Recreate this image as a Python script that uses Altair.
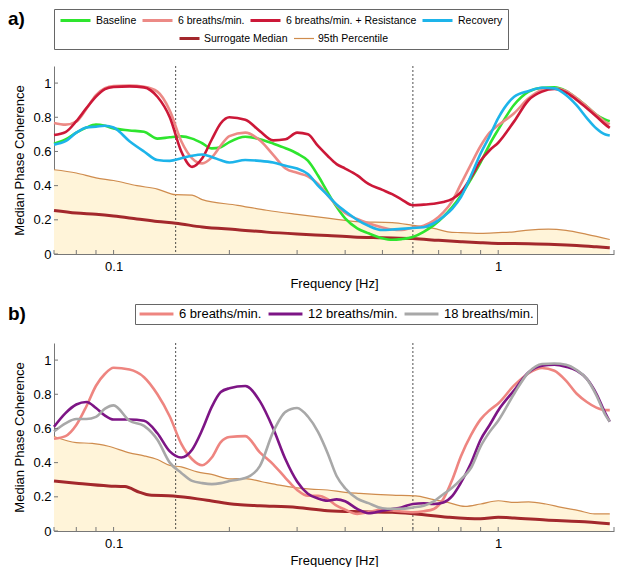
import altair as alt
import pandas as pd

# ---------------- data ----------------
FREQ = [0.07, 0.075, 0.08, 0.085, 0.09, 0.095, 0.10, 0.11, 0.12, 0.13, 0.14, 0.15, 0.16, 0.17, 0.18, 0.19,
        0.20, 0.22, 0.24, 0.26, 0.28, 0.30, 0.32, 0.34, 0.36, 0.38, 0.40, 0.43, 0.46, 0.50, 0.53, 0.56, 0.60,
        0.64, 0.68, 0.72, 0.76, 0.80, 0.85, 0.90, 0.95, 1.0, 1.1, 1.2, 1.3, 1.4, 1.5, 1.6, 1.7, 1.8, 1.9, 1.95]

# panel a
A_BASELINE = [0.645, 0.67, 0.71, 0.74, 0.757, 0.75, 0.735, 0.723, 0.715, 0.675, 0.683, 0.688, 0.675, 0.648, 0.618, 0.625,
              0.655, 0.686, 0.672, 0.646, 0.619, 0.588, 0.546, 0.459, 0.362, 0.276, 0.208, 0.15, 0.121, 0.092, 0.083, 0.087, 0.10,
              0.13, 0.169, 0.218, 0.276, 0.343, 0.439, 0.536, 0.642, 0.728, 0.873, 0.95, 0.973, 0.975, 0.954, 0.911, 0.863, 0.815, 0.786, 0.777]
A_SIX = [0.767, 0.757, 0.775, 0.85, 0.93, 0.97, 0.983, 0.985, 0.978, 0.95, 0.84, 0.66, 0.56, 0.53, 0.565, 0.635,
         0.69, 0.71, 0.665, 0.58, 0.50, 0.475, 0.455, 0.41, 0.345, 0.285, 0.24, 0.205, 0.18, 0.155, 0.143, 0.14, 0.155,
         0.166, 0.195, 0.243, 0.311, 0.41, 0.526, 0.632, 0.71, 0.753, 0.824, 0.911, 0.96, 0.969, 0.954, 0.911, 0.863, 0.815, 0.772, 0.76]
A_RESIST = [0.696, 0.713, 0.777, 0.854, 0.921, 0.965, 0.977, 0.981, 0.975, 0.92, 0.80, 0.60, 0.51, 0.56, 0.67, 0.765,
            0.80, 0.785, 0.719, 0.665, 0.671, 0.71, 0.70, 0.632, 0.575, 0.526, 0.50, 0.46, 0.41, 0.375, 0.35, 0.32, 0.285,
            0.289, 0.294, 0.304, 0.323, 0.362, 0.449, 0.545, 0.607, 0.651, 0.776, 0.901, 0.95, 0.965, 0.946, 0.901, 0.853, 0.805, 0.757, 0.738]
A_RECOV = [0.64, 0.66, 0.71, 0.74, 0.745, 0.75, 0.74, 0.66, 0.60, 0.55, 0.545, 0.56, 0.575, 0.582, 0.568, 0.548,
           0.535, 0.55, 0.545, 0.535, 0.516, 0.50, 0.468, 0.40, 0.345, 0.29, 0.25, 0.20, 0.165, 0.14, 0.143, 0.147, 0.152,
           0.157, 0.18, 0.218, 0.266, 0.333, 0.459, 0.588, 0.69, 0.795, 0.92, 0.954, 0.973, 0.969, 0.93, 0.869, 0.795, 0.734, 0.699, 0.693]

A_SUR_F = [0.07, 0.08, 0.09, 0.10, 0.115, 0.13, 0.145, 0.17, 0.21, 0.25, 0.30, 0.36, 0.42, 0.50, 0.60, 0.70, 0.80, 0.90,
           1.0, 1.2, 1.4, 1.6, 1.8, 1.95]
A_SUR_V = [0.255, 0.24, 0.232, 0.222, 0.205, 0.19, 0.18, 0.158, 0.142, 0.128, 0.117, 0.108, 0.10, 0.095, 0.09, 0.08, 0.072, 0.066,
           0.062, 0.06, 0.056, 0.05, 0.042, 0.036]
A_P95_F = [0.07, 0.08, 0.09, 0.10, 0.115, 0.13, 0.145, 0.16, 0.17, 0.21, 0.25, 0.30, 0.36, 0.43, 0.53, 0.60, 0.68, 0.74, 0.80,
           0.90, 1.0, 1.1, 1.2, 1.35, 1.5, 1.7, 1.95]
A_P95_V = [0.493, 0.474, 0.445, 0.43, 0.40, 0.38, 0.347, 0.345, 0.318, 0.285, 0.256, 0.232, 0.21, 0.19, 0.184, 0.168, 0.15, 0.13, 0.125,
           0.121, 0.125, 0.13, 0.14, 0.145, 0.138, 0.115, 0.085]

# panel b
B_SIX = [0.54, 0.555, 0.62, 0.73, 0.85, 0.92, 0.955, 0.945, 0.90, 0.80, 0.67, 0.51, 0.42, 0.385, 0.43, 0.52,
         0.55, 0.555, 0.46, 0.39, 0.31, 0.24, 0.206, 0.206, 0.187, 0.148, 0.125, 0.10, 0.11, 0.125, 0.12, 0.114, 0.11,
         0.116, 0.129, 0.187, 0.302, 0.437, 0.562, 0.653, 0.707, 0.746, 0.852, 0.923, 0.954, 0.938, 0.88, 0.803, 0.755, 0.722, 0.707, 0.707]
B_TWELVE = [0.61, 0.69, 0.74, 0.755, 0.72, 0.675, 0.652, 0.652, 0.645, 0.572, 0.466, 0.43, 0.476, 0.592, 0.726, 0.813,
            0.835, 0.848, 0.76, 0.60, 0.418, 0.29, 0.218, 0.19, 0.177, 0.185, 0.174, 0.129, 0.104, 0.119, 0.129, 0.138, 0.158,
            0.162, 0.158, 0.167, 0.206, 0.283, 0.398, 0.534, 0.62, 0.705, 0.823, 0.929, 0.967, 0.973, 0.961, 0.938, 0.89, 0.803, 0.688, 0.64]
B_EIGHTEEN = [0.582, 0.63, 0.655, 0.655, 0.668, 0.716, 0.735, 0.645, 0.615, 0.534, 0.40, 0.34, 0.293, 0.28, 0.274, 0.28,
              0.293, 0.31, 0.38, 0.58, 0.697, 0.72, 0.67, 0.58, 0.457, 0.322, 0.25, 0.19, 0.163, 0.133, 0.13, 0.13, 0.138,
              0.148, 0.173, 0.215, 0.254, 0.302, 0.37, 0.495, 0.58, 0.645, 0.803, 0.929, 0.977, 0.98, 0.973, 0.942, 0.89, 0.794, 0.678, 0.64]

B_SUR_F = [0.07, 0.08, 0.097, 0.107, 0.117, 0.124, 0.143, 0.175, 0.21, 0.24, 0.30, 0.36, 0.44, 0.53, 0.61, 0.74, 0.90,
           1.0, 1.1, 1.33, 1.62, 1.95]
B_SUR_V = [0.293, 0.28, 0.264, 0.26, 0.226, 0.21, 0.205, 0.18, 0.155, 0.148, 0.138, 0.119, 0.113, 0.11, 0.10, 0.081, 0.071,
           0.08, 0.076, 0.064, 0.056, 0.043]
B_P95_F = [0.07, 0.08, 0.088, 0.097, 0.11, 0.12, 0.13, 0.14, 0.15, 0.165, 0.18, 0.20, 0.22, 0.243, 0.27, 0.296, 0.326,
           0.36, 0.40, 0.437, 0.53, 0.61, 0.67, 0.74, 0.82, 0.90, 1.0, 1.1, 1.2, 1.33, 1.46, 1.62, 1.78, 1.95]
B_P95_V = [0.553, 0.517, 0.513, 0.496, 0.457, 0.44, 0.418, 0.384, 0.375, 0.346, 0.331, 0.305, 0.307, 0.288, 0.268, 0.254, 0.245,
           0.24, 0.226, 0.22, 0.21, 0.205, 0.187, 0.167, 0.144, 0.158, 0.177, 0.167, 0.171, 0.158, 0.138, 0.119, 0.10, 0.10]

BAND_EDGES = [0.145, 0.6]
X_TICKS = [0.07, 0.08, 0.09, 0.1, 0.2, 0.3, 0.4, 0.5, 0.6, 0.7, 0.8, 0.9, 1.0, 2.0]
Y_TICKS = [0, 0.2, 0.4, 0.6, 0.8, 1.0]

A_NAMES = ["Baseline", "6 breaths/min.", "6 breaths/min. + Resistance", "Recovery"]
A_COLORS = ["#2EE52E", "#EC8A86", "#CC1838", "#1DB4EA"]
B_NAMES = ["6 breaths/min.", "12 breaths/min.", "18 breaths/min."]
B_COLORS = ["#EE8580", "#7D1585", "#A8A8A8"]
SUR_NAMES = ["Surrogate Median", "95th Percentile"]
SUR_COLORS = ["#A3282C", "#CF8C4E"]

FONT = "Liberation Sans, Arial, sans-serif"
W, H = 560, 188


def series_df(name, xs, ys):
    return pd.DataFrame({"f": xs, "v": ys, "s": name})


def panel(tag, names, series, colors, sur_f, sur_v, p95_f, p95_v, cond_legend, sur_legend, label_y):
    xenc = alt.X("f:Q", scale=alt.Scale(type="log", domain=[0.07, 2.0], nice=False),
                 axis=alt.Axis(values=[0.1, 1], format="~g", title="Frequency [Hz]", labelPadding=6,
                               titlePadding=4, tickSize=0, grid=False))
    yenc = alt.Y("v:Q", scale=alt.Scale(domain=[0, 1.1], nice=False),
                 axis=alt.Axis(values=Y_TICKS, format="~g", title="Median Phase Coherence", labelPadding=3,
                               titlePadding=6, tickSize=0, grid=False))

    p95 = series_df("95th Percentile", p95_f, p95_v)
    sur = pd.concat([series_df("Surrogate Median", sur_f, sur_v), p95], ignore_index=True)

    fill = alt.Chart(p95).mark_area(color="#FFF4D9", interpolate="monotone").encode(x=xenc, y=yenc)

    sur_lines = alt.Chart(sur).mark_line(interpolate="monotone").encode(
        x=xenc, y=yenc,
        stroke=alt.Stroke("s:N", scale=alt.Scale(domain=SUR_NAMES, range=SUR_COLORS), legend=sur_legend),
        strokeWidth=alt.StrokeWidth("s:N", scale=alt.Scale(domain=SUR_NAMES, range=[3, 1.2]), legend=sur_legend),
    )

    bands = alt.Chart(pd.DataFrame({"f": BAND_EDGES})).mark_rule(
        color="#222", strokeWidth=0.8, strokeDash=[2, 2]
    ).encode(x=xenc, y=alt.value(0), y2=alt.value(H))

    xt = alt.Chart(pd.DataFrame({"f": X_TICKS})).mark_rule(color="#777", strokeWidth=1).encode(
        x=xenc, y=alt.value(H), y2=alt.value(H - 4))
    yt = alt.Chart(pd.DataFrame({"v": Y_TICKS})).mark_rule(color="#777", strokeWidth=1).encode(
        y=yenc, x=alt.value(0), x2=alt.value(4))

    cscale = alt.Scale(domain=names, range=colors)
    cond_layers = []
    for name, vals in zip(names, series):
        cond_layers.append(
            alt.Chart(series_df(name, FREQ, vals)).mark_line(interpolate="monotone", strokeWidth=2.6).encode(
                x=xenc, y=yenc, color=alt.Color("s:N", scale=cscale, legend=cond_legend))
        )

    label = alt.Chart(pd.DataFrame({"t": [tag]})).mark_text(
        align="left", baseline="middle", fontSize=19, fontWeight="bold", font=FONT, color="black"
    ).encode(text="t:N", x=alt.value(-46), y=alt.value(label_y))

    return alt.layer(fill, bands, sur_lines, *cond_layers, xt, yt, label).properties(width=W, height=H)


leg_a = alt.Legend(title=" ", titleOrient="bottom", titleFontSize=10, titlePadding=7,
                   orient="none", legendX=0, legendY=-57, direction="horizontal",
                   symbolType="stroke", symbolSize=900, symbolStrokeWidth=3, clipHeight=13,
                   labelFont=FONT, labelFontSize=10.5, labelOffset=4, columnPadding=4, padding=5,
                   strokeColor="#666", labelLimit=400)
leg_a_sur = alt.Legend(title=None, orient="none", legendX=124, legendY=-34, direction="horizontal",
                       symbolType="stroke", symbolSize=400, clipHeight=13,
                       labelFont=FONT, labelFontSize=10.5, labelOffset=3, columnPadding=5, padding=0)
leg_b = alt.Legend(title=None, orient="none", legendX=81, legendY=-39, direction="horizontal",
                   symbolType="stroke", symbolSize=1150, symbolStrokeWidth=3, clipHeight=14,
                   labelFont=FONT, labelFontSize=13, labelOffset=4, columnPadding=5, padding=3,
                   strokeColor="#666", fillColor="white", labelLimit=400)

pa = panel("a)", A_NAMES, [A_BASELINE, A_SIX, A_RESIST, A_RECOV], A_COLORS,
           A_SUR_F, A_SUR_V, A_P95_F, A_P95_V, leg_a, leg_a_sur, -47)
pb = panel("b)", B_NAMES, [B_SIX, B_TWELVE, B_EIGHTEEN], B_COLORS,
           B_SUR_F, B_SUR_V, B_P95_F, B_P95_V, leg_b, None, -29)

chart = alt.vconcat(pa, pb, spacing=13).resolve_scale(
    color="independent", stroke="independent", strokeWidth="independent"
).properties(
    padding={"left": 0, "top": 0, "right": 0, "bottom": 0}
).configure_view(stroke=None).configure_axis(
    labelFont=FONT, titleFont=FONT, labelFontSize=13, titleFontSize=13, titleFontWeight="normal",
    labelColor="black", titleColor="black", domainColor="#777", grid=False
)

chart.save("out.html", embed_options={"renderer": "svg", "actions": False})
